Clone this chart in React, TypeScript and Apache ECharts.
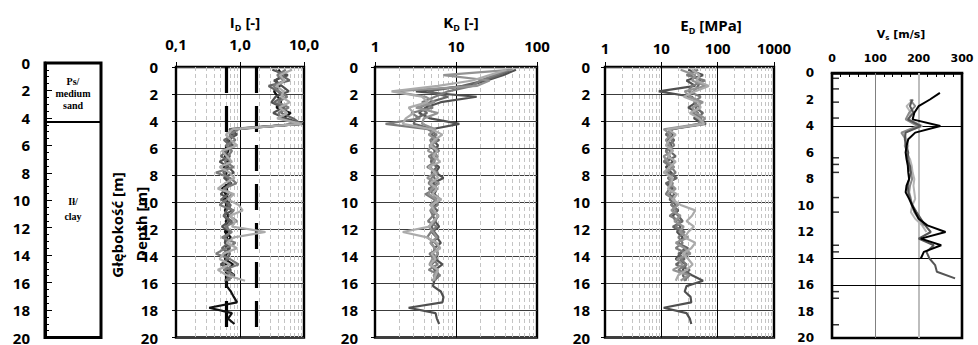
import React, { useEffect, useRef } from 'react';
import * as echarts from 'echarts';

// ---------- DATA ----------
const DEPTHS = [0.2, 0.6, 1.0, 1.4, 1.8, 2.2, 2.6, 3.0, 3.4, 3.8, 4.2, 4.6, 5.0, 5.4, 5.8, 6.2, 6.6, 7.0, 7.4, 7.8, 8.2, 8.6, 9.0, 9.4, 9.8, 10.2, 10.6, 11.0, 11.4, 11.8, 12.2, 12.6, 13.0, 13.4, 13.8, 14.2, 14.6, 15.0, 15.4, 15.8, 16.2, 16.6, 17.0, 17.4, 17.8, 18.2, 18.6, 19.0];

const ID_S1 = [4.0, 4.6, 3.6, 4.2, 3.4, 3.9, 4.4, 3.7, 6.2, 4.8, 8.8,
  0.85, 0.75, 0.7, 0.62, 0.66, 0.58, 0.7, 0.55, 0.62, 0.58, 0.68, 0.52, 0.6, 0.55, 0.63, 0.58, 0.66, 0.6, 0.62, 0.58, 0.72, 0.6, 0.66, 0.62, 0.58, 0.78, 0.64, 0.82, 0.6,
  0.62, 0.72, 0.8, 0.9, 0.33, 0.75, 0.65, 0.82];
const ID_S2 = [3.2, 5.6, 3.4, 4.5, 5.8, 3.6, 3.1, 4.6, 3.3, 5.2, 9.6,
  0.72, 0.9, 0.62, 0.78, 0.55, 0.7, 0.48, 0.66, 0.8, 0.56, 0.74, 0.6, 0.5, 0.7, 0.62, 0.75, 0.55, 0.68, 0.52, 0.72, 0.6, 0.58, 0.7, 0.55, 0.66, 0.5, 0.72, 0.62, 0.68];
const ID_S3 = [5.2, 3.8, 4.9, 3.3, 4.1, 5.5, 3.9, 5.8, 4.0, 4.3, 7.5,
  0.95, 0.68, 0.85, 0.6, 0.75, 0.65, 0.58, 0.8, 0.42, 0.7, 0.88, 0.55, 0.75, 0.62, 0.48, 0.8, 0.68, 0.9, 0.58, 0.75, 0.52, 0.85, 0.6, 0.42, 0.7, 0.95, 0.55, 0.8, 0.62];
const ID_S4 = [6.5, 4.2, 5.0, 3.7, 4.8, 4.4, 6.0, 4.1, 5.5, 3.8, 9.2,
  0.78, 0.6, 0.72, 0.9, 0.52, 0.62, 0.75, 0.48, 0.68, 0.82, 0.58, 0.45, 0.8, 0.65, 0.95, 1.1, 0.7, 0.85, 0.75, 2.5, 0.8, 0.62, 0.9, 0.55, 0.48, 0.7, 0.45, 0.62, 1.2];
const ID_S5 = [3.6, 4.4, 6.0, 2.8, 3.9, 4.7, 3.4, 5.0, 4.4, 6.8, 9.0,
  0.68, 0.82, 0.56, 0.7, 0.62, 0.5, 0.72, 0.6, 0.55, 0.64, 0.7, 0.58, 0.66, 0.5, 0.72, 0.62, 0.56, 0.75, 0.62, 0.7, 0.58, 0.66, 0.52, 0.7, 0.62, 0.55, 0.68, 0.72, 0.58];

const KD_S1 = [55, 38, 24, 14, 3.2, 18, 6.5, 4.2, 3.5, 4.8, 11,
  5.0, 5.5, 5.2, 6.0, 5.4, 5.8, 5.0, 6.2, 5.6, 7.0, 5.2, 5.8, 5.4, 6.4, 5.6, 5.2, 6.0, 5.5, 6.2, 5.0, 5.8, 6.5, 5.4, 6.0, 5.6, 6.8, 5.5, 6.2, 5.4,
  5.2, 6.5, 7.0, 6.8, 2.6, 5.6, 5.8, 6.2];
const KD_S2 = [45, 30, 20, 16, 8, 5.5, 3.8, 5.2, 2.8, 3.6, 1.35,
  4.5, 5.8, 4.8, 5.2, 6.2, 4.6, 5.5, 4.4, 6.0, 5.0, 4.6, 5.6, 4.2, 5.4, 6.0, 4.8, 5.2, 4.5, 5.8, 4.9, 4.4, 5.5, 6.3, 4.7, 5.3, 5.9, 4.6, 6.4, 5.0];
const KD_S3 = [50, 7, 26, 18, 1.7, 4.2, 5.5, 3.2, 6.0, 4.0, 3.8,
  5.6, 4.6, 5.8, 5.0, 4.5, 6.0, 5.3, 4.8, 5.6, 4.4, 6.2, 5.0, 4.6, 5.8, 5.2, 4.9, 6.1, 5.4, 4.6, 5.2, 5.8, 4.8, 5.5, 6.0, 5.1, 4.7, 5.9, 5.3, 5.6];
const KD_S4 = [42, 26, 16, 6, 1.6, 3.8, 4.5, 2.6, 3.0, 2.4, 2.2,
  5.0, 6.8, 5.4, 4.8, 5.9, 5.2, 6.4, 4.6, 5.5, 6.0, 4.8, 5.8, 5.1, 6.6, 4.9, 5.4, 6.0, 5.2, 4.7, 2.2, 4.4, 5.8, 6.4, 5.0, 5.6, 4.8, 6.0, 5.6, 5.2];
const KD_S5 = [48, 34, 22, 12, 4.5, 8, 4.8, 3.6, 4.4, 3.2, 3.0,
  5.3, 5.0, 6.2, 4.7, 5.6, 5.1, 4.9, 5.8, 5.0, 5.4, 6.0, 4.6, 5.3, 5.7, 4.8, 5.9, 5.2, 5.6, 5.0, 5.4, 6.1, 4.9, 5.5, 5.2, 5.8, 5.0, 5.4, 6.0, 5.1];

const ED_S1 = [30, 55, 28, 40, 9, 35, 42, 30, 45, 38, 55,
  14, 16, 13, 15, 12, 14, 16, 12, 15, 18, 13, 16, 14, 17, 15, 20, 16, 18, 22, 19, 24, 20, 26, 22, 18, 28, 24, 35, 55,
  28, 26, 33, 34, 11, 28, 32, 34];
const ED_S2 = [45, 28, 60, 35, 30, 50, 38, 48, 36, 52, 45,
  16, 13, 15, 17, 12, 14, 11, 15, 18, 13, 16, 14, 12, 17, 15, 19, 14, 22, 18, 26, 20, 24, 18, 30, 22, 28, 20, 32, 25];
const ED_S3 = [22, 40, 35, 62, 26, 32, 55, 35, 42, 60, 48,
  11, 15, 12, 14, 16, 11, 13, 17, 12, 15, 14, 18, 13, 16, 20, 15, 22, 17, 25, 21, 30, 18, 26, 33, 19, 24, 16, 30, 22];
const ED_S4 = [35, 48, 42, 70, 40, 25, 45, 50, 32, 46, 58,
  13, 18, 14, 12, 16, 13, 18, 14, 11, 16, 15, 13, 19, 16, 22, 40, 35, 28, 38, 30, 26, 40, 34, 24, 30, 36, 28, 20, 18];
const ED_S5 = [40, 32, 50, 45, 38, 28, 52, 40, 55, 42, 62,
  15, 12, 17, 13, 14, 18, 12, 16, 13, 19, 12, 15, 17, 14, 18, 16, 20, 24, 16, 22, 28, 19, 30, 20, 26, 18, 32, 24, 28];

const VS_DEPTHS = [1.5, 2.0, 2.5, 3.0, 3.5, 4.0, 4.5, 5.0, 5.5, 6.0, 6.5, 7.0, 7.5, 8.0, 8.5, 9.0, 9.5, 10.0, 10.5, 11.0, 11.5, 12.0, 12.5, 13.0, 13.5, 14.0, 14.5, 15.0, 15.5];
const VS_S1 = [249, 226, 200, 190, 186, 250, 192, 176, 172, 170, 172, 175, 176, 178, 172, 170, 178, 185, 192, 200, 220, 262, 205, 252, 212, 205];
const VS_S2 = [null, 185, 180, 188, 175, 205, 170, 168, 172, 176, 174, 180, 182, 178, 175, 176, 180, 186, 195, 205, 215, 228, 200, 235, 218, 225, 238, 242, 284];
const VS_S3 = [null, 180, 192, 178, 170, 198, 160, 170, 168, 174, 178, 176, 182, 185, 180, 178, 182, 184, 190, 200, 212];
const VS_S4 = [null, 188, 172, 182, 178, 208, 165, 172, 176, 170, 180, 184, 186, 190, 188, 190, 192, 185, 182, 192, 208, 218];
const VS_TICKS = [0.4, 1.2, 2.2, 3.4, 6.4, 6.9, 7.5, 9.4, 10.5, 13.0, 13.5, 16.5, 17.0, 19.0];

const ID_MINOR = [0.2, 0.3, 0.4, 0.5, 0.6, 0.7, 0.8, 0.9, 2, 3, 4, 5, 6, 7, 8, 9];
const KD_MINOR = [2, 3, 4, 5, 6, 7, 8, 9, 20, 30, 40, 50, 60, 70, 80, 90];
const ED_MINOR = [2, 3, 4, 5, 6, 7, 8, 9, 20, 30, 40, 50, 60, 70, 80, 90, 200, 300, 400, 500, 600, 700, 800, 900];
const ID_LIMITS = [0.6, 1.8];
const SOIL_BOUNDARY = [4.3];
const VS_VLINES = [100, 200];
const VS_HLINES = [4, 14, 16];

const COLORS = ['#111111', '#505050', '#7c7c7c', '#ababab', '#666666', '#939393'];

// ---------- HELPERS ----------
const FONT = '"Open Sans", sans-serif';
const VFONT = '"DejaVu Sans", sans-serif';
const SERIF = '"Liberation Serif", serif';

function pairs(vals: (number | null)[], depths: number[]) {
  const out: number[][] = [];
  vals.forEach((v, i) => { if (v != null) out.push([v, depths[i]]); });
  return out;
}

function dataSeries(idx: number, vals: (number | null)[], depths: number[], color: string, width = 2.2) {
  return {
    type: 'line', xAxisIndex: idx, yAxisIndex: idx, data: pairs(vals, depths),
    symbol: 'none', showSymbol: false, silent: true, z: 5,
    lineStyle: { color, width }, animation: false,
  };
}

function markSeries(idx: number, data: any[], lineStyle: any, z = 1) {
  return {
    type: 'line', xAxisIndex: idx, yAxisIndex: idx, data: [], z, silent: true,
    markLine: {
      silent: true, symbol: ['none', 'none'], label: { show: false }, animation: false,
      lineStyle, data,
    },
  };
}

const depthAxis = (idx: number, margin: number, extra: any = {}) => ({
  type: 'value', gridIndex: idx, inverse: true, min: 0, max: 20, interval: 2,
  axisLine: { show: false },
  axisTick: { show: true, inside: false, length: 4, lineStyle: { color: '#000' } },
  axisLabel: { fontFamily: FONT, fontWeight: 'bold', fontSize: 15, color: '#000', margin },
  splitLine: { show: true, lineStyle: { color: '#3c3c3c', width: 1 } },
  ...extra,
});

const logAxis = (idx: number, min: number, max: number, margin: number, fmt?: (v: number) => string) => ({
  type: 'log', logBase: 10, gridIndex: idx, min, max, position: 'top',
  axisLine: { show: false },
  axisTick: { show: true, inside: false, length: 5, lineStyle: { color: '#000' } },
  axisLabel: { fontFamily: FONT, fontWeight: 'bold', fontSize: 15, color: '#000', margin, formatter: fmt },
  splitLine: { show: true, lineStyle: { color: '#000', width: 1 } },
});

const title = (x: number, y: number, main: string, sub: string, rest: string, font: string, size: number) => ({
  type: 'text', x, y, silent: true,
  style: {
    text: `{a|${main}}{b|${sub}}{a|${rest}}`,
    align: 'center', verticalAlign: 'middle',
    rich: {
      a: { fontFamily: font, fontWeight: 'bold', fontSize: size, lineHeight: size + 4, fill: '#000' },
      b: { fontFamily: font, fontWeight: 'bold', fontSize: Math.round(size * 0.62), lineHeight: size + 4, verticalAlign: 'bottom', fill: '#000', padding: [Math.round(size * 0.45), 0, 0, 0] },
    },
  },
});

const plainText = (x: number, y: number, text: string, font: string, size: number, rotation = 0) => ({
  type: 'text', x, y, rotation, silent: true,
  style: { text, fontFamily: font, fontWeight: 'bold', fontSize: size, fill: '#000', align: 'center', verticalAlign: 'middle' },
});

export default function App() {
  const ref = useRef<HTMLDivElement>(null);
  useEffect(() => {
    if (!ref.current) return;
    const chart = echarts.init(ref.current, undefined, { renderer: 'svg' });
    const border = { show: true, borderColor: '#000', borderWidth: 2.4, backgroundColor: 'transparent' };
    const option: any = {
      animation: false,
      textStyle: { fontFamily: FONT },
      grid: [
        { left: 45, top: 63, width: 56, height: 275, ...border, borderWidth: 3 },
        { left: 176, top: 67, width: 128, height: 274, ...border },
        { left: 375, top: 67, width: 162, height: 274, ...border },
        { left: 605, top: 67, width: 169, height: 274, ...border },
        { left: 832, top: 73, width: 130, height: 265, ...border, borderWidth: 2.6 },
      ],
      xAxis: [
        { type: 'value', gridIndex: 0, min: 0, max: 1, show: false },
        logAxis(1, 0.1, 10, 16, (v: number) => v.toFixed(1).replace('.', ',')),
        logAxis(2, 1, 100, 14, (v: number) => String(Math.round(v))),
        logAxis(3, 1, 1000, 12, (v: number) => String(Math.round(v))),
        {
          type: 'value', gridIndex: 4, min: 0, max: 300, interval: 100, position: 'top',
          axisLine: { show: true, lineStyle: { color: '#000', width: 2.6 } },
          axisTick: { show: true, inside: true, length: 5, lineStyle: { color: '#000' } },
          minorTick: { show: true, splitNumber: 5, length: 4, lineStyle: { color: '#000' } },
          axisLabel: { fontFamily: VFONT, fontWeight: 'bold', fontSize: 11, color: '#000', margin: 9 },
          splitLine: { show: false },
        },
      ],
      yAxis: [
        depthAxis(0, 15, {
          axisLine: { show: true, lineStyle: { color: '#000', width: 3 } },
          axisTick: { show: true, inside: true, length: 7, lineStyle: { color: '#000' } },
          minorTick: { show: true, splitNumber: 4, length: 4, lineStyle: { color: '#000' } },
          splitLine: { show: false },
        }),
        depthAxis(1, 18),
        depthAxis(2, 17),
        depthAxis(3, 15),
        depthAxis(4, 18, {
          axisTick: { show: false },
          splitLine: { show: false },
          axisLabel: { fontFamily: VFONT, fontWeight: 'bold', fontSize: 12, color: '#000', margin: 18 },
        }),
      ],
      series: [
        // soil column
        markSeries(0, SOIL_BOUNDARY.map((v) => ({ yAxis: v })), { color: '#000', width: 2, type: 'solid' }, 3),
        // I_D
        markSeries(1, ID_MINOR.map((v) => ({ xAxis: v })), { color: '#c4c4c4', width: 1, type: [4, 3] }, 1),
        markSeries(1, ID_LIMITS.map((v) => ({ xAxis: v })), { color: '#000', width: 3.2, type: [26, 13] }, 2),
        dataSeries(1, ID_S1, DEPTHS, COLORS[0]),
        dataSeries(1, ID_S2, DEPTHS, COLORS[1]),
        dataSeries(1, ID_S5, DEPTHS, COLORS[4]),
        dataSeries(1, ID_S3, DEPTHS, COLORS[2]),
        dataSeries(1, ID_S4, DEPTHS, COLORS[3]),
        // K_D
        markSeries(2, KD_MINOR.map((v) => ({ xAxis: v })), { color: '#c4c4c4', width: 1, type: [4, 3] }, 1),
        dataSeries(2, KD_S1, DEPTHS, COLORS[1]),
        dataSeries(2, KD_S5, DEPTHS, COLORS[4]),
        dataSeries(2, KD_S2, DEPTHS, COLORS[2]),
        dataSeries(2, KD_S3, DEPTHS, COLORS[5]),
        dataSeries(2, KD_S4, DEPTHS, COLORS[3]),
        // E_D
        markSeries(3, ED_MINOR.map((v) => ({ xAxis: v })), { color: '#c4c4c4', width: 1, type: [4, 3] }, 1),
        dataSeries(3, ED_S1, DEPTHS, COLORS[1]),
        dataSeries(3, ED_S5, DEPTHS, COLORS[4]),
        dataSeries(3, ED_S2, DEPTHS, COLORS[2]),
        dataSeries(3, ED_S3, DEPTHS, COLORS[5]),
        dataSeries(3, ED_S4, DEPTHS, COLORS[3]),
        // V_s
        markSeries(4, [{ xAxis: VS_VLINES[0] }], { color: '#808080', width: 1, type: 'solid' }, 1),
        markSeries(4, [{ xAxis: VS_VLINES[1] }], { color: '#bdbdbd', width: 2, type: 'solid' }, 1),
        markSeries(4, VS_HLINES.map((v) => ({ yAxis: v })), { color: '#000', width: 1.2, type: 'solid' }, 2),
        {
          type: 'scatter', xAxisIndex: 4, yAxisIndex: 4, silent: true, z: 6,
          data: VS_TICKS.map((d) => [0, d]),
          symbol: 'rect', symbolSize: [7, 1.5], symbolOffset: [3.5, 0],
          itemStyle: { color: '#000' },
        },
        dataSeries(4, VS_S4, VS_DEPTHS, '#b5b5b5', 2),
        dataSeries(4, VS_S3, VS_DEPTHS, '#8a8a8a', 2),
        dataSeries(4, VS_S2, VS_DEPTHS, '#555555', 2),
        dataSeries(4, VS_S1, VS_DEPTHS, '#000000', 2),
      ],
      graphic: [
        plainText(73, 81, 'Ps/', SERIF, 10),
        plainText(73, 93, 'medium', SERIF, 10),
        plainText(73, 105, 'sand', SERIF, 10),
        plainText(73, 201, 'Ił/', SERIF, 10),
        plainText(73, 216, 'clay', SERIF, 10),
        plainText(117, 225, 'Głębokość [m]', FONT, 15, Math.PI / 2),
        plainText(141, 224, 'Depth [m]', FONT, 15, Math.PI / 2),
        title(245, 22, 'I', 'D', ' [-]', FONT, 15),
        title(461, 22, 'K', 'D', ' [-]', FONT, 15),
        title(711, 25, 'E', 'D', ' [MPa]', FONT, 15),
        title(901, 34, 'V', 's', ' [m/s]', VFONT, 11),
      ],
    };
    chart.setOption(option);
    return () => chart.dispose();
  }, []);
  return (
    <div
      ref={ref}
      style={{ position: 'fixed', left: 0, top: 0, width: 978, height: 345, background: '#fff' }}
    />
  );
}
